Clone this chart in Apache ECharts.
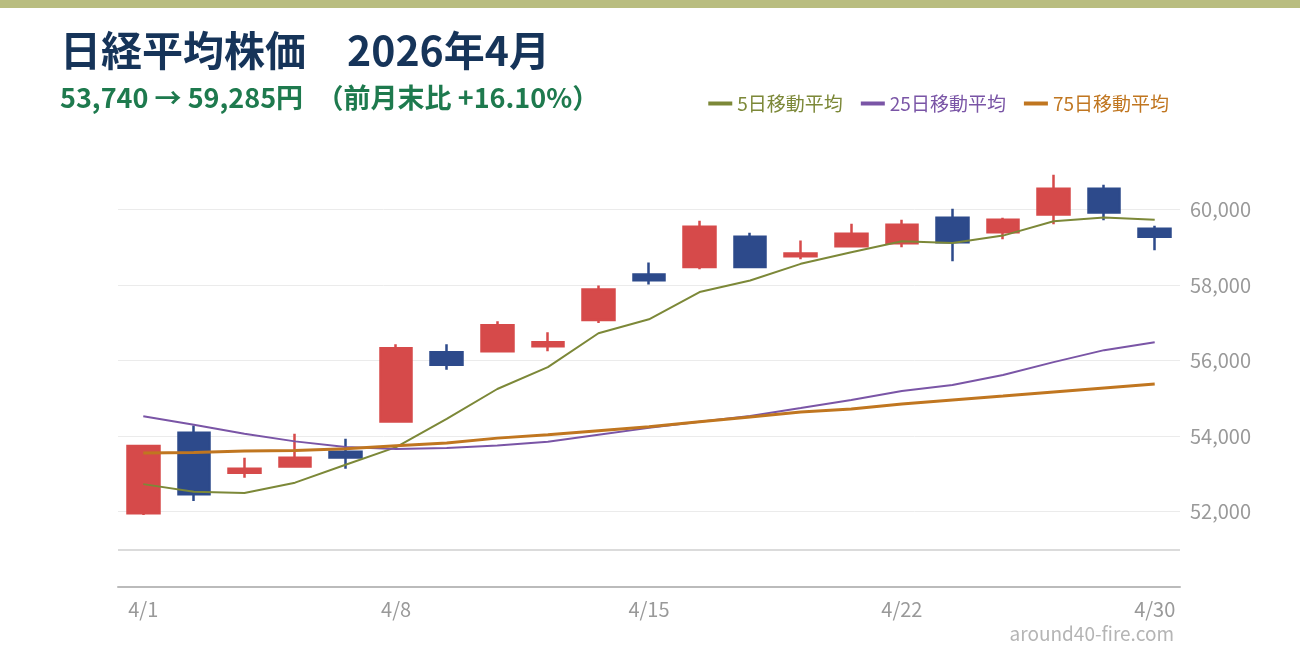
<!DOCTYPE html>
<html>
<head>
<meta charset="utf-8">
<script src="https://cdn.jsdelivr.net/npm/echarts@6/dist/echarts.min.js"></script>
<style>
html, body { margin: 0; padding: 0; background: #fff; }
#main { width: 1300px; height: 660px; }
</style>
</head>
<body>
<div id="main"></div>
<script>
// 営業日
var days = ['4/1','4/2','4/3','4/6','4/7','4/8','4/9','4/10','4/13','4/14','4/15',
	'4/16','4/17','4/20','4/21','4/22','4/23','4/24','4/27','4/28','4/30'];
// [始値, 終値, 安値, 高値]
var ohlc = [
	[51956, 53740, 51909, 53743],
	[54086, 52457, 52278, 54280],
	[53030, 53136, 52898, 53426],
	[53197, 53426, 53197, 54060],
	[53585, 53435, 53136, 53928],
	[54385, 56330, 54385, 56436],
	[56225, 55890, 55757, 56436],
	[56251, 56938, 56251, 57043],
	[56383, 56489, 56251, 56753],
	[57078, 57888, 56998, 57994],
	[58284, 58134, 58020, 58601],
	[58482, 59551, 58424, 59710],
	[59287, 58482, 58482, 59393],
	[58767, 58838, 58688, 59182],
	[59031, 59366, 59004, 59630],
	[59110, 59604, 59004, 59736],
	[59789, 59138, 58635, 60026],
	[59401, 59736, 59216, 59789],
	[59876, 60554, 59612, 60924],
	[60554, 59929, 59718, 60660],
	[59498, 59285, 58926, 59578]
];
var ma5 = [52727, 52525, 52489, 52766, 53242, 53709, 54456, 55248, 55829, 56726, 57096,
	57817, 58126, 58566, 58874, 59163, 59120, 59314, 59696, 59797, 59736];
var ma25 = [54527, 54298, 54060, 53860, 53710, 53656, 53683, 53753, 53850, 54034, 54218,
	54377, 54535, 54746, 54958, 55195, 55354, 55618, 55961, 56278, 56489];
var ma75 = [53550, 53566, 53603, 53620, 53664, 53743, 53814, 53946, 54034, 54139, 54245,
	54377, 54509, 54640, 54720, 54852, 54958, 55063, 55169, 55274, 55380];
var showLabels = [0, 5, 10, 15, 20];

var fontJP = '"Noto Sans CJK JP", "Noto Sans", sans-serif';
var chart = echarts.init(document.getElementById('main'));

chart.setOption({
	animation: false,
	backgroundColor: '#fff',
	textStyle: { fontFamily: fontJP },
	graphic: [
		{ type: 'rect', left: 0, top: 0, shape: { width: 1300, height: 8 }, style: { fill: '#b9bd80' } },
		{ type: 'text', left: 60, top: 30, style: { text: '日経平均株価　2026年4月', fill: '#163459', font: 'bold 41px ' + fontJP } },
		{ type: 'text', left: 60, top: 84, style: { text: '53,740 → 59,285円　（前月末比 +16.10%）', fill: '#1e7a4e', font: 'bold 27px ' + fontJP } },
		{ type: 'text', right: 126, top: 624, style: { text: 'around40-fire.com', fill: '#b5b5b5', font: '19px ' + fontJP } }
	],
	legend: {
		top: 89,
		right: 126,
		itemWidth: 24,
		itemHeight: 4,
		itemGap: 18,
		icon: 'rect',
		textStyle: { fontSize: 19, fontFamily: fontJP },
		data: [
			{ name: '5日移動平均', textStyle: { color: '#7c8838' } },
			{ name: '25日移動平均', textStyle: { color: '#7a55a6' } },
			{ name: '75日移動平均', textStyle: { color: '#c07620' } }
		]
	},
	grid: { left: 118, right: 120, top: 172, bottom: 73 },
	xAxis: {
		type: 'category',
		data: days,
		boundaryGap: true,
		axisLine: { lineStyle: { color: '#bbb', width: 2 } },
		axisTick: { show: false },
		axisLabel: {
			color: '#999', fontSize: 20, margin: 12,
			interval: function (i) { return showLabels.indexOf(i) >= 0; }
		}
	},
	yAxis: {
		type: 'value',
		position: 'right',
		min: 50000,
		max: 61000,
		interval: 2000,
		axisLine: { show: false },
		axisTick: { show: false },
		splitLine: { showMaxLine: false, lineStyle: { color: '#ebebeb', width: 1 } },
		axisLabel: {
			color: '#999', fontSize: 20, margin: 10,
			formatter: function (v) {
				if (v < 52000 || v > 60000) return '';
				return echarts.format.addCommas(v);
			}
		}
	},
	series: [
		{
			name: '日経平均',
			type: 'candlestick',
			data: ohlc,
			barWidth: 32,
			itemStyle: {
				color: '#d64a4a', color0: '#2d4a8b',
				borderColor: '#d64a4a', borderColor0: '#2d4a8b',
				borderWidth: 2.5
			},
			markLine: {
				symbol: 'none',
				silent: true,
				label: { show: false },
				lineStyle: { color: '#cfcfcf', type: 'solid', width: 1.5 },
				data: [{ yAxis: 51000 }]
			}
		},
		{ name: '5日移動平均', type: 'line', data: ma5, showSymbol: false, color: '#7c8838', lineStyle: { width: 2 } },
		{ name: '25日移動平均', type: 'line', data: ma25, showSymbol: false, color: '#7a55a6', lineStyle: { width: 2 } },
		{ name: '75日移動平均', type: 'line', data: ma75, showSymbol: false, color: '#c07620', lineStyle: { width: 3 } }
	]
});
</script>
</body>
</html>
